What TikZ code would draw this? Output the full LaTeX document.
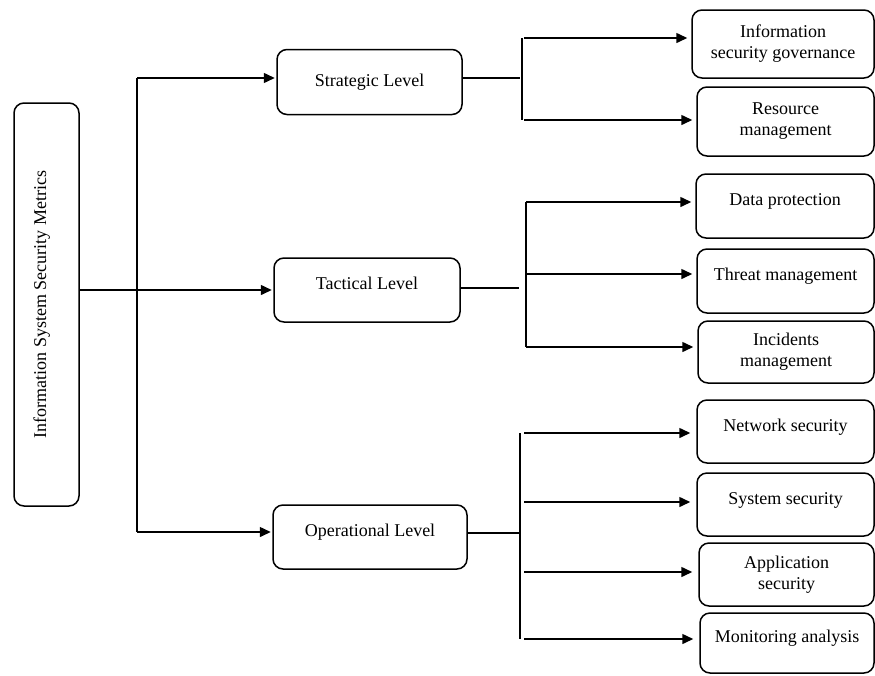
\documentclass[tikz,border=0pt]{standalone}
\usepackage{fontspec}
\setmainfont{Liberation Serif}
\usetikzlibrary{arrows.meta}

\begin{document}
\begin{tikzpicture}[x=1pt,y=-1pt,
        box/.style={draw, line width=1.5pt, rounded corners=10pt, align=center, inner sep=2pt,
                    font=\fontsize{18}{21}\selectfont},
        lifted/.style={text height=13pt, text depth=#1},
        lifted/.default=14pt,
        link/.style={line width=1.5pt},
        arr/.style={link, -{Triangle[length=11pt,width=10pt]}}]
        \useasboundingbox (0,0) rectangle (875,675);
        % root box (rotated, so its south side faces right)
        \node[box, lifted, rotate=90, minimum width=403pt, minimum height=65pt] (isms) at (46.5,304.5) {Information System Security Metrics};
        % levels
        \node[box, minimum width=185pt, minimum height=65pt] (strat) at (369.5,82) {Strategic Level};
        \node[box, lifted, minimum width=186pt, minimum height=64pt] (tact) at (367,290) {Tactical Level};
        \node[box, lifted, minimum width=194pt, minimum height=64pt] (oper) at (370,537) {Operational Level};
        % metrics
        \node[box, minimum width=182pt, minimum height=68pt] (gov) at (783,44) {Information\\security governance};
        \node[box, minimum width=177pt, minimum height=69pt] (res) at (785.5,121.5) {Resource\\management};
        \node[box, lifted, minimum width=178pt, minimum height=64pt] (data) at (785,206) {Data protection};
        \node[box, lifted, minimum width=177pt, minimum height=64pt] (threat) at (785.5,281) {Threat management};
        \node[box, minimum width=176pt, minimum height=62pt] (incid) at (786,352) {Incidents\\management};
        \node[box, lifted, minimum width=177pt, minimum height=63pt] (net) at (785.5,431.5) {Network security};
        \node[box, lifted, minimum width=177pt, minimum height=63pt] (sys) at (785.5,504.5) {System security};
        \node[box, minimum width=175pt, minimum height=63pt] (app) at (786.5,574.5) {Application\\security};
        \node[box, lifted, minimum width=174pt, minimum height=60pt] (mon) at (787,643) {Monitoring analysis};

        % trunk
        \coordinate (t1) at (137,78);
        \coordinate (t2) at (137,290);
        \coordinate (t3) at (137,532);
        \draw[link] (t1) -- (t3);
        \draw[link] (isms.south |- t2) -- (t2);
        \foreach \t/\n in {t1/strat, t2/tact, t3/oper}
            \draw[arr, shorten >=1.5pt] (\t) -- (\t -| \n.west);

        % strategic branch
        \coordinate (s0) at (520,78);
        \coordinate (s1) at (522,38);
        \coordinate (s2) at (522,120);
        \draw[link] (strat.east |- s0) -- (s0);
        \draw[link] (s1) -- (s2);
        \foreach \c/\n in {s1/gov, s2/res}
            \draw[arr, shorten >=4pt] ([xshift=2pt]\c) -- (\c -| \n.west);

        % tactical branch
        \coordinate (c0) at (519,288);
        \coordinate (c1) at (526,202);
        \coordinate (c2) at (526,274);
        \coordinate (c3) at (526,347);
        \draw[link] (tact.east |- c0) -- (c0);
        \draw[link] (c1) -- (c3);
        \foreach \c/\n in {c1/data, c2/threat, c3/incid}
            \draw[arr, shorten >=4pt] (\c) -- (\c -| \n.west);

        % operational branch
        \coordinate (o0) at (520,533);
        \coordinate (o1) at (520,433);
        \coordinate (o2) at (520,502);
        \coordinate (o3) at (520,572);
        \coordinate (o4) at (520,639);
        \draw[link] (oper.east |- o0) -- (o0);
        \draw[link] (o1) -- (o4);
        \foreach \c/\n in {o1/net, o2/sys, o3/app, o4/mon}
            \draw[arr, shorten >=6pt] ([xshift=4pt]\c) -- (\c -| \n.west);
    \end{tikzpicture}
\end{document}
